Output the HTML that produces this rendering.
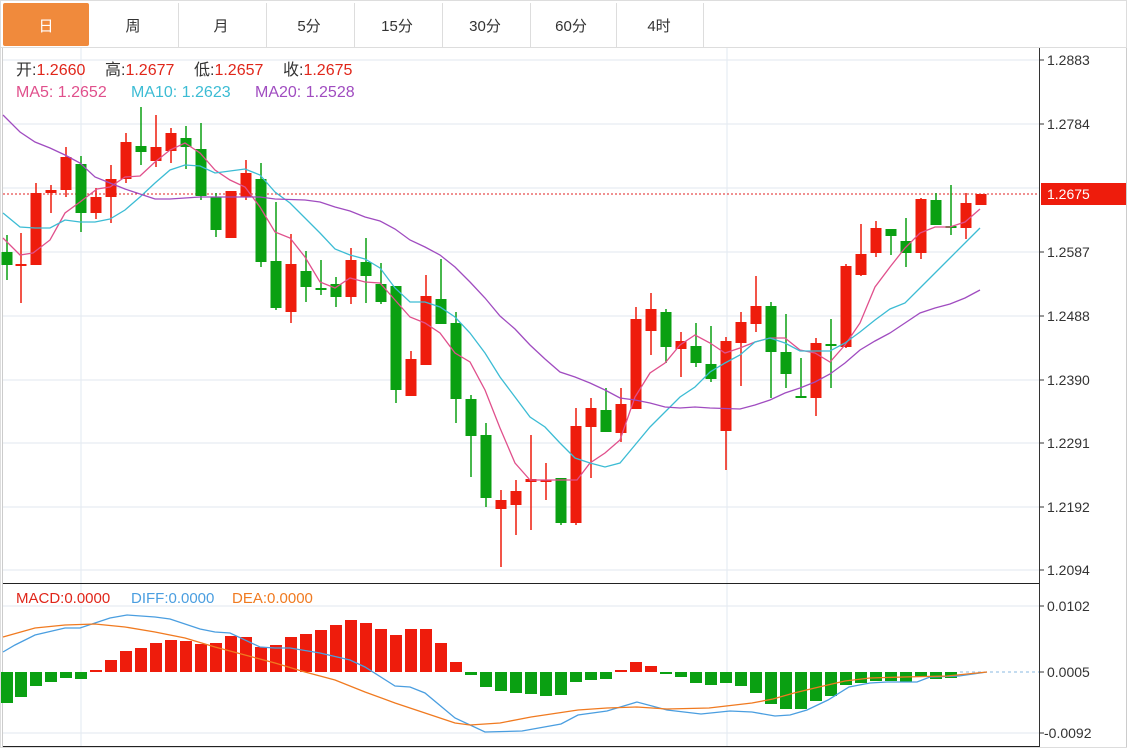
<!DOCTYPE html>
<html><head><meta charset="utf-8"><style>
body{margin:0;background:#fff;width:1136px;height:749px;overflow:hidden;font-family:"Liberation Sans","Noto Sans CJK SC",sans-serif}
svg{position:absolute;left:0;top:0}
text{font-family:"Liberation Sans","Noto Sans CJK SC",sans-serif}
</style></head><body>
<svg id="s" width="1136" height="749" xmlns="http://www.w3.org/2000/svg">
<rect x="0.5" y="0.5" width="1126" height="747" fill="#fff" stroke="#ddd"/>
<line x1="0" y1="47.5" x2="1127" y2="47.5" stroke="#ddd"/>
<rect x="3" y="3" width="86" height="43" fill="#f08a3c" rx="2"/>
<g stroke="#ddd"><line x1="178.5" y1="3" x2="178.5" y2="47"/><line x1="266.5" y1="3" x2="266.5" y2="47"/><line x1="354.5" y1="3" x2="354.5" y2="47"/><line x1="442.5" y1="3" x2="442.5" y2="47"/><line x1="530.5" y1="3" x2="530.5" y2="47"/><line x1="616.5" y1="3" x2="616.5" y2="47"/><line x1="703.5" y1="3" x2="703.5" y2="47"/></g>
<g font-size="15" text-anchor="middle" fill="#333"><text x="46" y="31" fill="#fff">日</text><text x="133" y="31">周</text><text x="221" y="31">月</text><text x="309" y="31">5分</text><text x="397" y="31">15分</text><text x="485" y="31">30分</text><text x="571" y="31">60分</text><text x="659" y="31">4时</text></g>
<line x1="2.5" y1="48" x2="2.5" y2="747" stroke="#ccc"/>
<g stroke="#e6ecf2" stroke-width="1.2"><line x1="3" y1="60" x2="1039" y2="60"/><line x1="3" y1="124" x2="1039" y2="124"/><line x1="3" y1="188" x2="1039" y2="188"/><line x1="3" y1="252" x2="1039" y2="252"/><line x1="3" y1="316" x2="1039" y2="316"/><line x1="3" y1="380" x2="1039" y2="380"/><line x1="3" y1="443" x2="1039" y2="443"/><line x1="3" y1="507" x2="1039" y2="507"/><line x1="3" y1="570" x2="1039" y2="570"/><line x1="3" y1="606" x2="1039" y2="606"/><line x1="3" y1="733" x2="1039" y2="733"/><line x1="81" y1="48" x2="81" y2="747"/><line x1="727" y1="48" x2="727" y2="747"/></g>
<line x1="3" y1="583.5" x2="1039" y2="583.5" stroke="#222"/>
<line x1="3" y1="746.5" x2="1039" y2="746.5" stroke="#222"/>
<line x1="1039.5" y1="48" x2="1039.5" y2="747" stroke="#333"/>
<line x1="1126.5" y1="48" x2="1126.5" y2="747" stroke="#ccc"/>
<g stroke="#333"><line x1="1039" y1="60" x2="1044" y2="60"/><line x1="1039" y1="124" x2="1044" y2="124"/><line x1="1039" y1="252" x2="1044" y2="252"/><line x1="1039" y1="316" x2="1044" y2="316"/><line x1="1039" y1="380" x2="1044" y2="380"/><line x1="1039" y1="443" x2="1044" y2="443"/><line x1="1039" y1="507" x2="1044" y2="507"/><line x1="1039" y1="570" x2="1044" y2="570"/><line x1="1039" y1="606" x2="1044" y2="606"/><line x1="1039" y1="672" x2="1044" y2="672"/><line x1="1039" y1="733" x2="1044" y2="733"/></g>
<g font-size="14" fill="#333"><text x="1047" y="65">1.2883</text><text x="1047" y="129">1.2784</text><text x="1047" y="257">1.2587</text><text x="1047" y="321">1.2488</text><text x="1047" y="385">1.2390</text><text x="1047" y="448">1.2291</text><text x="1047" y="512">1.2192</text><text x="1047" y="575">1.2094</text><text x="1047" y="611">0.0102</text><text x="1047" y="677">0.0005</text><text x="1044" y="738">-0.0092</text></g>
<rect x="1041" y="183" width="85" height="22" fill="#ee1c0c"/>
<text x="1047" y="199" font-size="14" fill="#fff">1.2675</text>
<line x1="3" y1="194" x2="1039" y2="194" stroke="#e02020" stroke-dasharray="2,2"/>
<line x1="960" y1="672" x2="1039" y2="672" stroke="#8ab8e0" stroke-dasharray="3,3"/>
<g id="c"></g>
<g font-size="16">
<text x="16" y="75" fill="#333">开:<tspan fill="#e0261a">1.2660</tspan></text>
<text x="105" y="75" fill="#333">高:<tspan fill="#e0261a">1.2677</tspan></text>
<text x="194" y="75" fill="#333">低:<tspan fill="#e0261a">1.2657</tspan></text>
<text x="283" y="75" fill="#333">收:<tspan fill="#e0261a">1.2675</tspan></text>
<text x="16" y="97" fill="#e0508c">MA5: 1.2652</text>
<text x="131" y="97" fill="#3cbcd4">MA10: 1.2623</text>
<text x="255" y="97" fill="#a04cc0">MA20: 1.2528</text>
<g font-size="15"><text x="16" y="603" fill="#e0261a">MACD:0.0000</text><text x="131" y="603" fill="#4a9ee0">DIFF:0.0000</text><text x="232" y="603" fill="#f07a20">DEA:0.0000</text></g></g>
</svg>
<script>
var C=[[7,252,265,235,280,0],[21,264,265,233,303,1],[36,265,193,183,265,1],[51,193,190,185,213,1],[66,190,157,147,197,1],[81,164,213,156,232,0],[96,213,197,188,219,1],[111,197,179,165,223,1],[126,179,142,133,183,1],[141,146,152,107,165,0],[156,161,147,115,167,1],[171,151,133,128,163,1],[186,138,147,126,169,0],[201,149,196,123,200,0],[216,197,230,193,237,0],[231,238,191,191,238,1],[246,197,173,160,200,1],[261,179,262,163,267,0],[276,261,308,202,310,0],[291,312,264,234,323,1],[306,271,287,251,302,0],[321,288,289,260,295,0],[336,284,297,277,307,0],[351,297,260,248,304,1],[366,262,276,238,303,0],[381,284,302,263,304,0],[396,286,390,286,403,0],[411,396,359,351,396,1],[426,365,296,275,365,1],[441,299,324,259,324,0],[456,323,399,312,423,0],[471,399,436,395,477,0],[486,435,498,423,507,0],[501,509,500,490,567,1],[516,505,491,480,535,1],[531,482,479,435,530,1],[546,480,481,463,500,1],[561,478,523,478,525,0],[576,523,426,408,525,1],[591,427,408,398,478,1],[606,410,432,388,432,0],[621,433,404,388,442,1],[636,409,319,307,409,1],[651,331,309,293,355,1],[666,312,347,309,363,0],[681,349,341,332,377,1],[696,346,363,323,367,0],[711,364,379,326,382,0],[726,431,341,337,470,1],[741,343,322,312,386,1],[756,324,306,276,332,1],[771,306,352,302,398,0],[786,352,374,314,388,0],[801,396,397,358,397,0],[816,398,343,338,416,1],[831,344,346,319,388,0],[846,347,266,264,348,1],[861,275,254,224,276,1],[876,253,228,221,257,1],[891,229,236,229,255,0],[906,241,253,218,267,0],[921,253,199,198,259,1],[936,200,225,193,225,0],[951,226,228,185,235,0],[966,228,203,193,239,1],[981,205,194,194,205,1]];
var H=[[7,703],[21,697],[36,686],[51,682],[66,678],[81,679],[96,670],[111,660],[126,651],[141,648],[156,643],[171,640],[186,641],[201,644],[216,643],[231,636],[246,637],[261,647],[276,645],[291,637],[306,634],[321,630],[336,625],[351,620],[366,623],[381,629],[396,635],[411,629],[426,629],[441,643],[456,662],[471,675],[486,687],[501,691],[516,693],[531,694],[546,696],[561,695],[576,682],[591,680],[606,679],[621,670],[636,662],[651,666],[666,674],[681,677],[696,683],[711,685],[726,683],[741,686],[756,693],[771,704],[786,709],[801,709],[816,701],[831,696],[846,685],[861,683],[876,681],[891,681],[906,682],[921,677],[936,679],[951,678]];
var L={"#e0508c":"3,238 20,255 33,253 50,240 65,213 80,202 97,189 110,187 125,177 140,176 155,162 170,150 185,143 200,153 215,170 230,180 245,187 260,207 275,232 290,238 305,257 320,282 335,288 350,278 365,282 380,283 395,300 410,317 425,323 440,333 455,353 470,362 485,390 500,428 515,463 530,480 577,480 590,463 605,453 620,440 635,397 650,373 665,363 680,345 695,335 710,343 725,353 740,348 755,342 770,338 785,338 800,350 815,353 830,362 845,345 860,323 875,287 890,267 905,248 920,233 935,227 950,227 965,222 980,209",
"#3cbcd4":"3,213 20,227 35,228 50,228 65,220 80,222 95,222 110,219 125,210 140,197 155,183 170,170 185,165 200,166 215,173 230,171 245,169 260,175 275,192 290,203 305,218 320,233 335,249 350,255 365,259 380,268 395,288 410,302 425,302 440,307 455,317 470,333 485,353 500,377 515,397 530,417 545,427 560,443 575,458 590,463 605,467 620,463 635,445 650,427 665,412 680,397 695,387 710,372 725,363 740,355 755,342 770,338 785,343 800,351 815,351 830,351 845,343 860,332 875,320 890,309 905,303 920,288 935,273 950,258 965,243 980,228",
"#a04cc0":"3,115 20,132 35,142 50,148 65,155 80,163 95,177 110,183 125,189 140,194 155,199 170,199 185,198 200,197 260,197 275,199 305,200 320,202 335,207 350,211 365,217 380,221 395,229 410,240 425,247 440,255 455,267 470,282 485,298 500,316 515,329 530,345 545,359 560,372 575,377 590,383 605,390 620,398 635,400 650,403 665,407 680,408 695,407 710,408 740,409 755,405 770,400 785,393 800,388 815,382 830,374 845,363 860,350 875,341 890,333 905,323 920,313 935,308 950,304 965,298 980,290",
"#4a9ee0":"3,652 15,645 35,635 65,628 80,628 110,618 127,615 155,617 170,619 200,629 215,632 230,633 260,647 275,648 290,648 320,653 350,660 365,667 395,686 410,687 425,693 455,718 485,732 522,731 561,724 578,715 607,711 637,702 667,710 701,714 730,711 752,712 775,716 790,715 807,710 828,700 849,687 870,683 887,682 917,682 930,677 959,676 987,672",
"#f07a20":"3,637 35,628 65,625 95,624 125,627 155,632 185,638 215,647 245,655 275,663 305,672 335,680 365,692 395,703 425,713 455,723 470,725 500,723 531,717 578,710 607,708 637,707 667,709 709,708 752,703 773,699 794,693 819,687 845,681 870,678 904,677 947,676 987,672"};
var s="";
H.forEach(function(h){var up=h[1]<672;var y=Math.min(h[1],672),hh=Math.max(Math.abs(h[1]-672),1);s+='<rect x="'+(h[0]-6)+'" y="'+y+'" width="12" height="'+hh+'" fill="'+(up?'#ee1c0c':'#0aa012')+'"/>';});
C.forEach(function(c){var col=c[5]?'#ee1c0c':'#0aa012';var t=Math.min(c[1],c[2]),h=Math.max(Math.abs(c[1]-c[2]),2);s+='<line x1="'+c[0]+'" x2="'+c[0]+'" y1="'+c[3]+'" y2="'+c[4]+'" stroke="'+col+'" stroke-width="1.5"/><rect x="'+(c[0]-5.5)+'" y="'+t+'" width="11" height="'+h+'" fill="'+col+'"/>';});
for(var k in L){s+='<polyline points="'+L[k]+'" fill="none" stroke="'+k+'" stroke-width="1.3"/>';}
document.getElementById("c").innerHTML=s;
</script>
</body></html>
